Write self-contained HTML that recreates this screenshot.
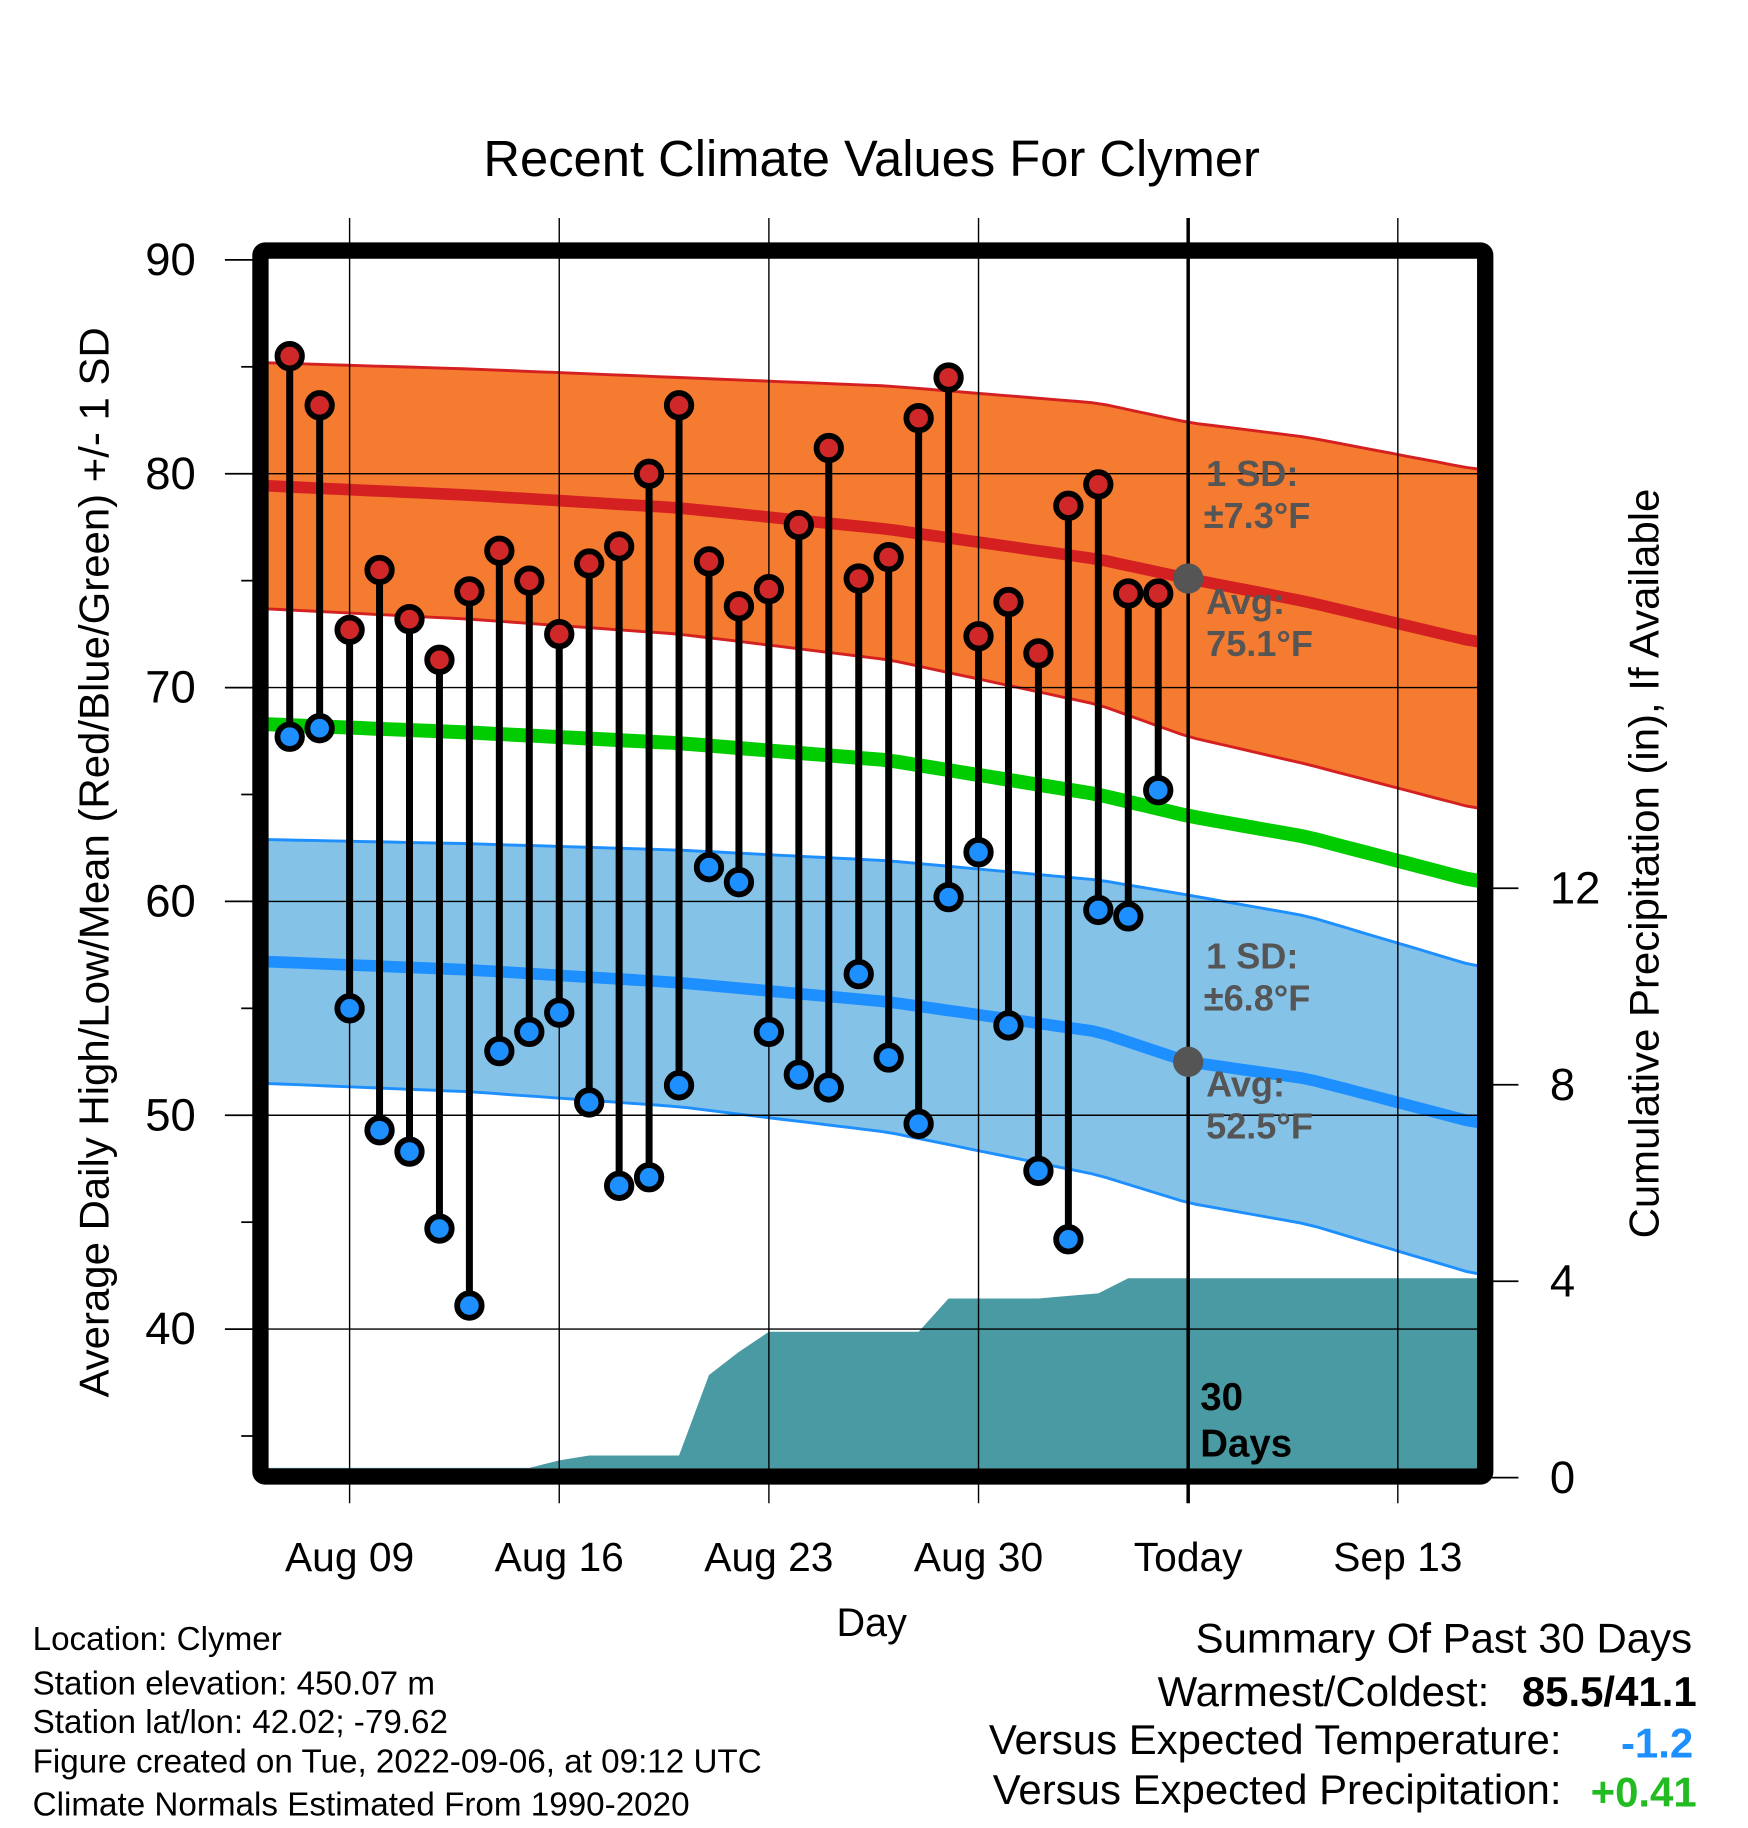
<!DOCTYPE html>
<html><head><meta charset="utf-8"><style>
html,body{margin:0;padding:0;background:#fff}
svg{display:block}
text{font-family:"Liberation Sans",sans-serif}
</style></head><body>
<svg id="chart" width="1748" height="1828" viewBox="0 0 1500 1568.6" xmlns="http://www.w3.org/2000/svg">
<g id="layer"></g>
</svg>
<script>
// ---- data ----
const dayLabels = ["Aug 07","Aug 08","Aug 09","Aug 10","Aug 11","Aug 12","Aug 13","Aug 14","Aug 15","Aug 16","Aug 17","Aug 18","Aug 19","Aug 20","Aug 21","Aug 22","Aug 23","Aug 24","Aug 25","Aug 26","Aug 27","Aug 28","Aug 29","Aug 30","Aug 31","Sep 01","Sep 02","Sep 03","Sep 04","Sep 05"];
const highs = [85.5,83.2,72.7,75.5,73.2,71.3,74.5,76.4,75.0,72.5,75.8,76.6,80.0,83.2,75.9,73.8,74.6,77.6,81.2,75.1,76.1,82.6,84.5,72.4,74.0,71.6,78.5,79.5,74.4,74.4];
const lows  = [67.7,68.1,55.0,49.3,48.3,44.7,41.1,53.0,53.9,54.8,50.6,46.7,47.1,51.4,61.6,60.9,53.9,51.9,51.3,56.6,52.7,49.6,60.2,62.3,54.2,47.4,44.2,59.6,59.3,65.2];
const precip = [0.2,0.2,0.2,0.2,0.2,0.2,0.2,0.2,0.2,0.35,0.45,0.45,0.45,0.45,2.09,2.56,2.97,2.97,2.97,2.97,2.97,2.97,3.65,3.65,3.65,3.65,3.7,3.75,4.06,4.06];
const normDays   = [-1,6,13,20,27,30,34,40];
const highAvg    = [79.45,79.0,78.4,77.4,76.0,75.1,74.0,72.0];
const highUpper  = [85.2,84.9,84.5,84.1,83.3,82.4,81.7,80.1];
const highLower  = [73.7,73.2,72.5,71.3,69.2,67.7,66.4,64.2];
const meanAvg    = [68.3,67.9,67.4,66.6,65.0,64.0,63.0,60.8];
const lowAvg     = [57.2,56.8,56.2,55.3,53.9,52.5,51.7,49.5];
const lowUpper   = [62.9,62.7,62.4,61.9,61.0,60.3,59.3,56.8];
const lowLower   = [51.5,51.1,50.4,49.2,47.2,45.9,44.9,42.4];
const yTicks = [40,50,60,70,80,90];
const pTicks = [0,4,8,12];
const xTickDays = [2,9,16,23,30,37];
const xTickLabels = ["Aug 09","Aug 16","Aug 23","Aug 30","Today","Sep 13"];

// ---- axes ----
const PL=230,PR=1268,PT=222,PB=1260;
const dMin=-0.72,dMax=39.75;
const x = d => 248.6 + d*25.7;
const y = t => 223 + (90-t)*18.35;
const yp = p => 1268 - p*42.15;
const NS="http://www.w3.org/2000/svg";
const layer=document.getElementById('layer');
function mk(tag,attrs,parent){const e=document.createElementNS(NS,tag);for(const k in attrs)e.setAttribute(k,attrs[k]);(parent||layer).appendChild(e);return e;}
function interp(arr,d){for(let i=0;i<normDays.length-1;i++){if(d<=normDays[i+1]){const t=(d-normDays[i])/(normDays[i+1]-normDays[i]);return arr[i]+t*(arr[i+1]-arr[i]);}}return arr[arr.length-1];}
function curvePts(arr){const pts=[];for(let d=dMin;d<dMax;d+=0.5){pts.push([x(d),y(interp(arr,d))]);}pts.push([x(dMax)+6,y(interp(arr,dMax))]);return pts;}
const P=pts=>pts.map(p=>p[0].toFixed(1)+','+p[1].toFixed(1)).join(' ');

const defs=mk('defs',{});
const cp=mk('clipPath',{id:'plotclip'},defs);
mk('rect',{x:PL,y:PT,width:PR-PL,height:PB-PT},cp);
const g=mk('g',{'clip-path':'url(#plotclip)'});

function band(up,lo,fill,edge,name){
  const u=curvePts(up),l=curvePts(lo).reverse();
  const b=mk('polygon',{points:P(u.concat(l)),fill:fill},g);
  
  
  mk('polyline',{points:P(curvePts(up)),fill:'none',stroke:edge,'stroke-width':2.5},g);
  mk('polyline',{points:P(curvePts(lo)),fill:'none',stroke:edge,'stroke-width':2.5},g);
}
band(highUpper,highLower,'#f47b30','#d42020','high-sd-band');
band(lowUpper,lowLower,'#84c2e8','#1e8fff','low-sd-band');

(function(){
  const pts=[[x(dMin),PB],[x(dMin),yp(precip[0])]];
  precip.forEach((p,i)=>pts.push([x(i),yp(p)]));
  pts.push([x(dMax)+10,yp(precip[precip.length-1])],[x(dMax)+10,PB+10],[x(dMin),PB+10]);
  const a=mk('polygon',{points:P(pts),fill:'#4a9aa3'},g);
  
  
})();

function line(arr,color,w,name){const l=mk('polyline',{points:P(curvePts(arr)),fill:'none',stroke:color,'stroke-width':w},g);
  
  }
line(highAvg,'#d42020',10,'avg-high-line');
line(meanAvg,'#00cc00',12,'avg-mean-line');
line(lowAvg,'#1e8fff',10,'avg-low-line');

yTicks.forEach(t=>{if(t<90)mk('line',{x1:PL,x2:PR,y1:y(t),y2:y(t),stroke:'#000','stroke-width':1.2});});
xTickDays.forEach((d,i)=>{mk('line',{x1:x(d),x2:x(d),y1:187,y2:1290,stroke:'#000','stroke-width':i==4?3:1.2});});

highs.forEach((h,i)=>{
  const s=mk('line',{x1:x(i),x2:x(i),y1:y(h),y2:y(lows[i]),stroke:'#000','stroke-width':6});
  
  
});
highs.forEach((h,i)=>{
  const c=mk('circle',{cx:x(i),cy:y(h),r:10.5,fill:'#d02828',stroke:'#000','stroke-width':5});
  
  
  const c2=mk('circle',{cx:x(i),cy:y(lows[i]),r:10.5,fill:'#1e8fff',stroke:'#000','stroke-width':5});
  
  
});
const d1=mk('circle',{cx:x(30),cy:y(interp(highAvg,30)),r:13,fill:'#555'});


const d2=mk('circle',{cx:x(30),cy:y(interp(lowAvg,30)),r:13,fill:'#555'});



const fr=mk('rect',{x:223.5,y:215,width:1051,height:1052,fill:'none',stroke:'#000','stroke-width':14,rx:4});



for(let t=35;t<=90;t+=5){const maj=t%10==0;mk('line',{x1:maj?193:207,x2:217,y1:y(t),y2:y(t),stroke:'#000','stroke-width':1.5});}
yTicks.forEach(t=>{const e=mk('text',{x:168,y:y(t)+13,'font-size':39,'text-anchor':'end'});e.textContent=t;
  
  });
pTicks.forEach(p=>{mk('line',{x1:1280,x2:1303,y1:yp(p),y2:yp(p),stroke:'#000','stroke-width':1.5});
  const e=mk('text',{x:1330,y:yp(p)+13,'font-size':39,'text-anchor':'start'});e.textContent=p;
  
  });
xTickDays.forEach((d,i)=>{const e=mk('text',{x:x(d),y:1348,'font-size':35,'text-anchor':'middle'});e.textContent=xTickLabels[i];
  
  });
</script>
<svg style="position:absolute;left:0;top:0" width="1748" height="1828" viewBox="0 0 1500 1568.6" xmlns="http://www.w3.org/2000/svg">
<text x="748" y="151" font-size="43.5" text-anchor="middle">Recent Climate Values For Clymer</text>
<text transform="translate(93,740) rotate(-90)" font-size="36" text-anchor="middle">Average Daily High/Low/Mean (Red/Blue/Green) +/- 1 SD</text>
<text transform="translate(1423,741) rotate(-90)" font-size="36" text-anchor="middle">Cumulative Precipitation (in), If Available</text>
<text x="748" y="1404" font-size="34" text-anchor="middle">Day</text>
<g font-size="31" font-weight="bold" fill="#555">
<text x="1035" y="417">1 SD:</text><text x="1033" y="453">±7.3°F</text>
<text x="1035" y="527">Avg:</text><text x="1035" y="563">75.1°F</text>
<text x="1035" y="831">1 SD:</text><text x="1033" y="867">±6.8°F</text>
<text x="1035" y="941">Avg:</text><text x="1035" y="977">52.5°F</text>
</g>
<g font-size="33" font-weight="bold" fill="#000">
<text x="1030" y="1210">30</text><text x="1030" y="1250">Days</text>
</g>
<g font-size="28.5" fill="#000">
<text x="28" y="1416">Location: Clymer</text>
<text x="28" y="1454">Station elevation: 450.07 m</text>
<text x="28" y="1487">Station lat/lon: 42.02; -79.62</text>
<text x="28" y="1521">Figure created on Tue, 2022-09-06, at 09:12 UTC</text>
<text x="28" y="1558">Climate Normals Estimated From 1990-2020</text>
</g>
<g font-size="36" fill="#000">
<text x="1452" y="1418" text-anchor="end">Summary Of Past 30 Days</text>
<text x="1278" y="1464" text-anchor="end">Warmest/Coldest:</text>
<text x="1456" y="1464" text-anchor="end" font-weight="bold">85.5/41.1</text>
<text x="1340" y="1505" text-anchor="end">Versus Expected Temperature:</text>
<text x="1453" y="1508" text-anchor="end" font-weight="bold" fill="#1e8fff">-1.2</text>
<text x="1340" y="1548" text-anchor="end">Versus Expected Precipitation:</text>
<text x="1456" y="1550" text-anchor="end" font-weight="bold" fill="#22bb22">+0.41</text>
</g>
</svg>
</body></html>
